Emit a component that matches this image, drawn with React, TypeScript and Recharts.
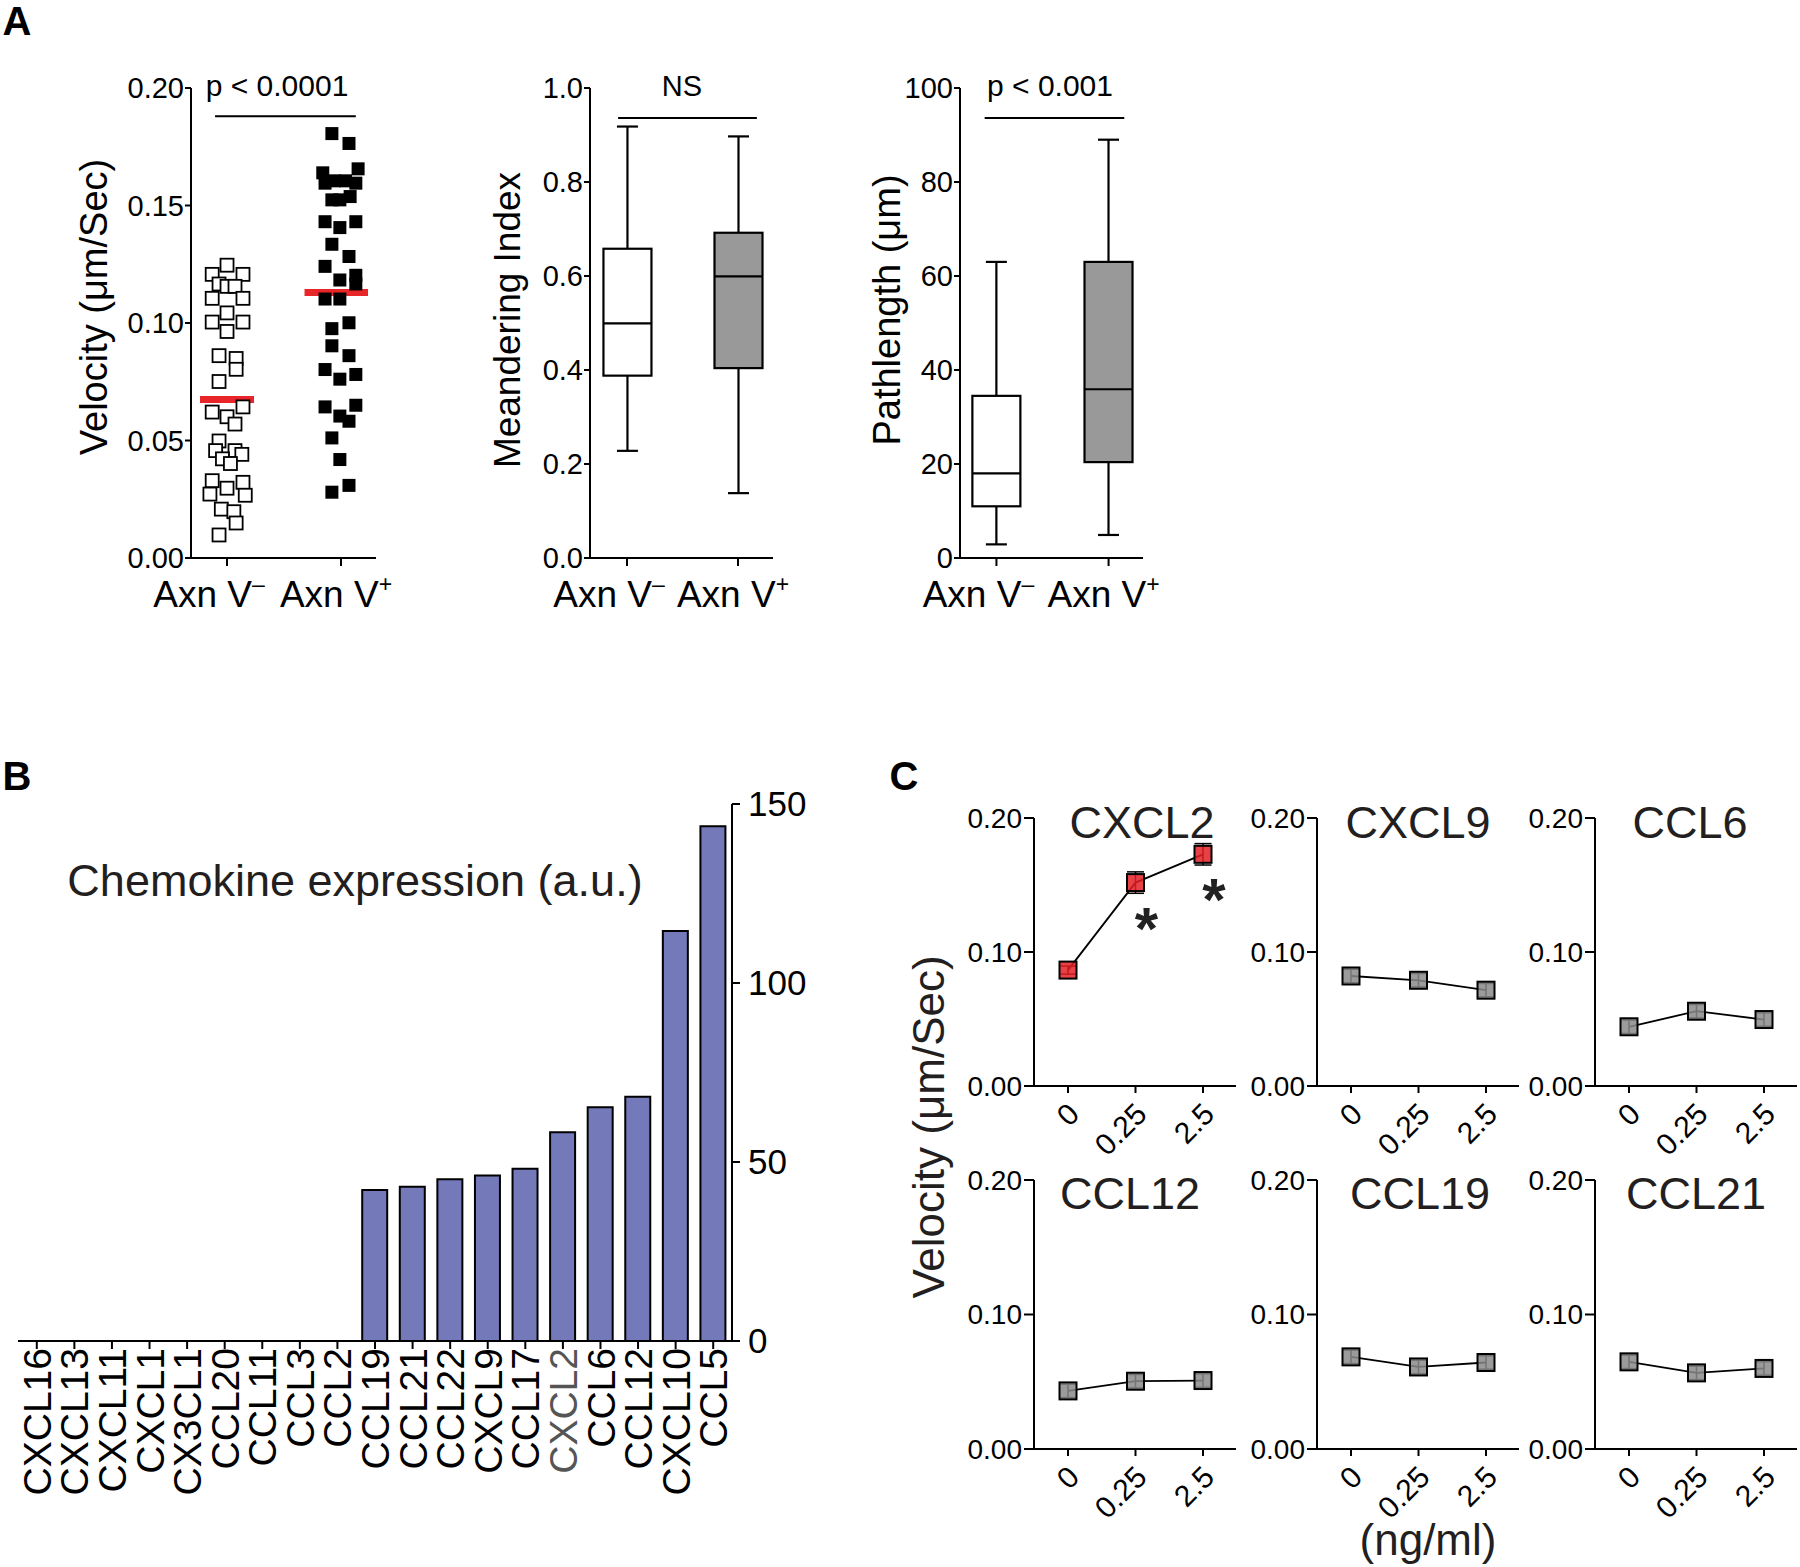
import React from 'react';
import {
  ScatterChart,
  Scatter,
  BarChart,
  Bar,
  LineChart,
  Line,
  XAxis,
  YAxis,
  ReferenceLine,
  ErrorBar,
  LabelList,
} from 'recharts';

const FONT = '"Liberation Sans", Arial, Helvetica, sans-serif';

// ---- Panel A: velocity per cell, [jitter offset, µm/sec]
const groupLabels = ['Axn V', 'Axn V'];
const groupSigns = ['–', '+'];

const velocityNeg: [number, number][] = [
  [0, 0.1246], [-0.13, 0.1207], [0.14, 0.1207], [-0.07, 0.1166], [0, 0.1156],
  [0.07, 0.1156], [-0.13, 0.1105], [0.14, 0.1105], [0, 0.1043], [-0.13, 0.1004],
  [0.14, 0.1004], [0, 0.0964], [-0.07, 0.0861], [0.08, 0.0849], [0.08, 0.0803],
  [-0.07, 0.0751], [-0.13, 0.0621], [0.14, 0.0643], [0, 0.0601], [0.07, 0.057],
  [-0.07, 0.0498], [-0.1, 0.0457], [0.07, 0.0457], [0.13, 0.0441], [-0.04, 0.0422],
  [0.03, 0.0402], [-0.13, 0.0329], [0.14, 0.0322], [0, 0.0297], [-0.15, 0.0272],
  [0.16, 0.0267], [-0.05, 0.0208], [0.06, 0.0197], [0.08, 0.0149], [-0.07, 0.0098],
];

const velocityPos: [number, number][] = [
  [-0.08, 0.1806], [0.07, 0.1764], [-0.16, 0.1639], [0.15, 0.1656], [-0.14, 0.1595],
  [-0.06, 0.1605], [0.04, 0.1605], [0.13, 0.1595], [-0.08, 0.1524], [-0.01, 0.1524],
  [0.08, 0.1538], [-0.14, 0.1431], [0.13, 0.1431], [-0.01, 0.1406], [-0.08, 0.1335],
  [0.07, 0.1283], [-0.14, 0.1241], [-0.01, 0.1183], [0.13, 0.1203], [0.13, 0.1166],
  [-0.14, 0.1102], [-0.01, 0.1102], [-0.08, 0.0976], [0.07, 0.1001], [-0.08, 0.0903],
  [0.07, 0.0861], [-0.14, 0.0802], [0.13, 0.0781], [-0.01, 0.0761], [-0.14, 0.0643],
  [0.13, 0.065], [-0.01, 0.0604], [0.07, 0.0582], [-0.08, 0.0511], [-0.01, 0.0419],
  [0.07, 0.0309], [-0.08, 0.028],
];

const velocityMeans = [0.0675, 0.113];

// box plots: [min, q1, median, q3, max]
const meanderingNeg = [0.228, 0.388, 0.499, 0.658, 0.918];
const meanderingPos = [0.138, 0.404, 0.599, 0.692, 0.897];
const pathNeg = [2.9, 11.0, 18.0, 34.5, 63.0];
const pathPos = [4.9, 20.4, 35.9, 63.0, 89.0];

// ---- Panel B
const chemokines = [
  'CXCL16', 'CXCL13', 'CXCL11', 'CXCL1', 'CX3CL1', 'CCL20', 'CCL11', 'CCL3', 'CCL2',
  'CCL19', 'CCL21', 'CCL22', 'CXCL9', 'CCL17', 'CXCL2', 'CCL6', 'CCL12', 'CXCL10', 'CCL5',
];
const expression = [0, 0, 0, 0, 0, 0, 0, 0, 0, 42.2, 43.1, 45.2, 46.2, 48.1, 58.3, 65.3, 68.2, 114.5, 143.8];

// ---- Panel C: velocity vs dose
const doses = ['0', '0.25', '2.5'];
const cxcl2Velocity = [0.0865, 0.1518, 0.1729];
const cxcl2Sem = [0.003, 0.008, 0.008];
const cxcl2Sig = ['', '*', '*'];
const cxcl9Velocity = [0.0821, 0.0789, 0.0715];
const ccl6Velocity = [0.0442, 0.0558, 0.0496];
const ccl12Velocity = [0.0432, 0.0504, 0.0509];
const ccl19Velocity = [0.0685, 0.061, 0.0643];
const ccl21Velocity = [0.0648, 0.0566, 0.0599];
const flatSem = [0.005, 0.005, 0.005];

const AX = { stroke: '#000', strokeWidth: 2 };
// group labels sit a little left of their ticks in the original
const AXN_DX = [-18, -5];

function Txt({ x, y, size, children, rotate = 0, weight = 400, color = '#000' }: any) {
  return (
    <div
      style={{
        position: 'absolute',
        left: x,
        top: y,
        transform: `translate(-50%, -50%) rotate(${rotate}deg)`,
        fontSize: size,
        fontWeight: weight,
        color,
        whiteSpace: 'nowrap',
        lineHeight: 1,
      }}
    >
      {children}
    </div>
  );
}

function AxnTick({ x, y, payload }: any) {
  const i = Math.round(payload.value) - 1;
  return (
    <text x={x + AXN_DX[i]} y={y} dy={39} textAnchor="middle" fontSize={37} fill="#000">
      {groupLabels[i]}
      <tspan fontSize={23} dy={-15}>{groupSigns[i]}</tspan>
    </text>
  );
}

function ChemTick({ x, y, payload }: any) {
  return (
    <g transform={`translate(${x},${y - 3}) rotate(-90)`}>
      <text textAnchor="end" dy="0.36em" fontSize={39} fill={payload.value === 'CXCL2' ? '#555' : '#000'}>
        {payload.value}
      </text>
    </g>
  );
}

function DoseTick({ x, y, payload }: any) {
  return (
    <g transform={`translate(${x + 13},${y + 21}) rotate(-45)`}>
      <text textAnchor="end" fontSize={30} fill="#000">
        {payload.value}
      </text>
    </g>
  );
}

function StarLabel({ x, y, value }: any) {
  if (!value) return null;
  return (
    <text x={x + 11} y={y + 66} textAnchor="middle" fontSize={60} fontWeight={700} fill="#222">
      {value}
    </text>
  );
}

// box drawn from the bar that spans 0..max
function BoxShape(props: any) {
  const { x, y, width, height, payload } = props;
  const base = y + height;
  const k = height / payload.max;
  const py = (v: number) => base - v * k;
  const cx = x + width / 2;
  const cap = 10.5;
  return (
    <g stroke="#000" strokeWidth={2.2}>
      <line x1={cx} x2={cx} y1={py(payload.max)} y2={py(payload.q3)} />
      <line x1={cx} x2={cx} y1={py(payload.q1)} y2={py(payload.min)} />
      <line x1={cx - cap} x2={cx + cap} y1={py(payload.max)} y2={py(payload.max)} />
      <line x1={cx - cap} x2={cx + cap} y1={py(payload.min)} y2={py(payload.min)} />
      <rect x={x} y={py(payload.q3)} width={width} height={py(payload.q1) - py(payload.q3)} fill={payload.fill} />
      <line x1={x} x2={x + width} y1={py(payload.med)} y2={py(payload.med)} />
    </g>
  );
}

const openSquare = (p: any) => (
  <rect x={p.cx - 6.5} y={p.cy - 6.5} width={13} height={13} fill="#fff" stroke="#000" strokeWidth={1.8} />
);
const filledSquare = (p: any) => <rect x={p.cx - 6.5} y={p.cy - 6.5} width={13} height={13} fill="#000" />;

const squareDot = (color: string) => (p: any) => (
  <rect
    key={`dot-${p.index}`}
    x={p.cx - 8.5}
    y={p.cy - 8.5}
    width={17}
    height={17}
    fill={color}
    fillOpacity={0.85}
    stroke="#000"
    strokeWidth={2}
  />
);

function BoxPanel({ left, yWidth, rightPad, domain, xDomain, ticks, digits, boxes, sigY, sigX }: any) {
  const data = boxes.map((b: number[], i: number) => ({
    pos: i + 1,
    min: b[0],
    q1: b[1],
    med: b[2],
    q3: b[3],
    max: b[4],
    fill: i === 0 ? '#fff' : '#999',
  }));
  return (
    <div style={{ position: 'absolute', left, top: 0 }}>
      <BarChart width={yWidth + 183 + rightPad} height={640} data={data} margin={{ top: 88, right: rightPad, left: 0, bottom: 0 }}>
        <XAxis
          dataKey="pos"
          type="number"
          domain={xDomain}
          ticks={[1, 2]}
          tick={<AxnTick />}
          tickSize={8}
          height={82}
          axisLine={AX}
          tickLine={AX}
        />
        <YAxis
          type="number"
          domain={domain}
          ticks={ticks}
          tickFormatter={(v: number) => v.toFixed(digits)}
          width={yWidth}
          tickSize={6}
          tickMargin={1}
          tick={{ fontSize: 29, fill: '#000' }}
          axisLine={AX}
          tickLine={AX}
        />
        <Bar dataKey="max" barSize={48} shape={<BoxShape />} isAnimationActive={false} />
        <ReferenceLine
          segment={[{ x: sigX[0], y: sigY }, { x: sigX[1], y: sigY }]}
          stroke="#000"
          strokeWidth={2}
        />
      </BarChart>
    </div>
  );
}

function DoseChart({ x0, top, plotH, rightPad, values, sem, color, sig }: any) {
  const data = doses.map((d, i) => ({ dose: d, v: values[i], e: sem[i], s: sig ? sig[i] : '' }));
  return (
    <div style={{ position: 'absolute', left: x0 - 90, top: top - 50 }}>
      <LineChart width={90 + 202 + rightPad} height={50 + plotH + 110} data={data} margin={{ top: 50, right: rightPad, left: 0, bottom: 0 }}>
        <XAxis
          dataKey="dose"
          scale="point"
          interval={0}
          padding={{ left: 34, right: 33 }}
          height={110}
          tick={<DoseTick />}
          tickSize={7}
          axisLine={AX}
          tickLine={AX}
        />
        <YAxis
          domain={[0, 0.2]}
          ticks={[0, 0.1, 0.2]}
          tickFormatter={(v: number) => v.toFixed(2)}
          width={90}
          tickSize={10}
          tickMargin={2}
          tick={{ fontSize: 28, fill: '#000' }}
          axisLine={AX}
          tickLine={AX}
        />
        <Line dataKey="v" stroke="#000" strokeWidth={1.8} dot={squareDot(color)} isAnimationActive={false}>
          <ErrorBar dataKey="e" width={8.5} stroke="#000" strokeWidth={1.5} />
          {sig && <LabelList dataKey="s" content={<StarLabel />} />}
        </Line>
      </LineChart>
    </div>
  );
}

export default function App() {
  const negPoints = velocityNeg.map(([j, v]) => ({ x: 1 + j, y: v }));
  const posPoints = velocityPos.map(([j, v]) => ({ x: 2 + j, y: v }));
  const chemData = chemokines.map((name, i) => ({ name, value: expression[i] }));

  return (
    <div
      style={{
        position: 'absolute',
        left: 0,
        top: 0,
        width: 1800,
        height: 1567,
        background: '#fff',
        overflow: 'hidden',
        fontFamily: FONT,
      }}
    >
      {/* Panel A: velocity scatter */}
      <div style={{ position: 'absolute', left: 0, top: 0 }}>
        <ScatterChart width={400} height={640} margin={{ top: 88, right: 24, left: 0, bottom: 0 }}>
          <XAxis
            dataKey="x"
            type="number"
            domain={[0.684, 2.307]}
            ticks={[1, 2]}
            tick={<AxnTick />}
            tickSize={8}
            height={82}
            axisLine={AX}
            tickLine={AX}
          />
          <YAxis
            dataKey="y"
            type="number"
            domain={[0, 0.2]}
            ticks={[0, 0.05, 0.1, 0.15, 0.2]}
            tickFormatter={(v: number) => v.toFixed(2)}
            width={191}
            tickSize={6}
            tickMargin={1}
            tick={{ fontSize: 29, fill: '#000' }}
            axisLine={AX}
            tickLine={AX}
          />
          <Scatter data={negPoints} shape={openSquare} isAnimationActive={false} />
          <Scatter data={posPoints} shape={filledSquare} isAnimationActive={false} />
          <ReferenceLine
            segment={[{ x: 0.763, y: velocityMeans[0] }, { x: 1.237, y: velocityMeans[0] }]}
            stroke="#e8262a"
            strokeWidth={7}
          />
          <ReferenceLine
            segment={[{ x: 1.68, y: velocityMeans[1] }, { x: 2.237, y: velocityMeans[1] }]}
            stroke="#e8262a"
            strokeWidth={7}
          />
          <ReferenceLine segment={[{ x: 0.895, y: 0.188 }, { x: 2.13, y: 0.188 }]} stroke="#000" strokeWidth={2} />
        </ScatterChart>
      </div>

      {/* Panel A: box plots */}
      <BoxPanel
        left={400}
        yWidth={190}
        rightPad={27}
        domain={[0, 1]}
        xDomain={[0.667, 2.315]}
        ticks={[0, 0.2, 0.4, 0.6, 0.8, 1]}
        digits={1}
        boxes={[meanderingNeg, meanderingPos]}
        sigY={0.936}
        sigX={[0.92, 2.17]}
      />
      <BoxPanel
        left={800}
        yWidth={160}
        rightPad={54}
        domain={[0, 100]}
        xDomain={[0.675, 2.307]}
        ticks={[0, 20, 40, 60, 80, 100]}
        digits={0}
        boxes={[pathNeg, pathPos]}
        sigY={93.6}
        sigX={[0.895, 2.14]}
      />

      {/* Panel B */}
      <div style={{ position: 'absolute', left: 0, top: 760 }}>
        <BarChart width={830} height={800} data={chemData} margin={{ top: 44, right: 0, left: 18, bottom: 0 }}>
          <XAxis
            dataKey="name"
            type="category"
            interval={0}
            tick={<ChemTick />}
            tickSize={8}
            height={219}
            axisLine={AX}
            tickLine={AX}
          />
          <YAxis
            orientation="right"
            domain={[0, 150]}
            ticks={[0, 50, 100, 150]}
            width={98}
            tickSize={8}
            tickMargin={8}
            tick={{ fontSize: 35, fill: '#000' }}
            axisLine={AX}
            tickLine={AX}
          />
          <Bar dataKey="value" fill="#7479b9" stroke="#000" strokeWidth={2} barSize={25} isAnimationActive={false} />
        </BarChart>
      </div>

      {/* Panel C */}
      <DoseChart x0={1034} top={818} plotH={268} rightPad={6} values={cxcl2Velocity} sem={cxcl2Sem} color="#e31e24" sig={cxcl2Sig} />
      <DoseChart x0={1317} top={818} plotH={268} rightPad={6} values={cxcl9Velocity} sem={flatSem} color="#8a8a8a" />
      <DoseChart x0={1595} top={818} plotH={268} rightPad={3} values={ccl6Velocity} sem={flatSem} color="#8a8a8a" />
      <DoseChart x0={1034} top={1180} plotH={269} rightPad={6} values={ccl12Velocity} sem={flatSem} color="#8a8a8a" />
      <DoseChart x0={1317} top={1180} plotH={269} rightPad={6} values={ccl19Velocity} sem={flatSem} color="#8a8a8a" />
      <DoseChart x0={1595} top={1180} plotH={269} rightPad={3} values={ccl21Velocity} sem={flatSem} color="#8a8a8a" />

      {/* text */}
      <Txt x={17} y={21} size={40} weight={700}>A</Txt>
      <Txt x={17} y={776} size={40} weight={700}>B</Txt>
      <Txt x={904} y={776} size={40} weight={700}>C</Txt>

      <Txt x={94} y={307} size={38} rotate={-90}>Velocity (μm/Sec)</Txt>
      <Txt x={507} y={320} size={37} rotate={-90}>Meandering Index</Txt>
      <Txt x={887} y={310} size={38} rotate={-90}>Pathlength (μm)</Txt>
      <Txt x={277} y={86} size={30}>p &lt; 0.0001</Txt>
      <Txt x={682} y={86} size={29}>NS</Txt>
      <Txt x={1050} y={86} size={30}>p &lt; 0.001</Txt>

      <Txt x={355} y={880} size={45} color="#231f20">Chemokine expression (a.u.)</Txt>

      <Txt x={1142} y={822} size={45} color="#231f20">CXCL2</Txt>
      <Txt x={1418} y={822} size={45} color="#231f20">CXCL9</Txt>
      <Txt x={1690} y={822} size={45} color="#231f20">CCL6</Txt>
      <Txt x={1130} y={1193} size={45} color="#231f20">CCL12</Txt>
      <Txt x={1420} y={1193} size={45} color="#231f20">CCL19</Txt>
      <Txt x={1696} y={1193} size={45} color="#231f20">CCL21</Txt>
      <Txt x={929} y={1127} size={44} rotate={-90} color="#231f20">Velocity (μm/Sec)</Txt>
      <Txt x={1428} y={1540} size={44} color="#231f20">(ng/ml)</Txt>
    </div>
  );
}
